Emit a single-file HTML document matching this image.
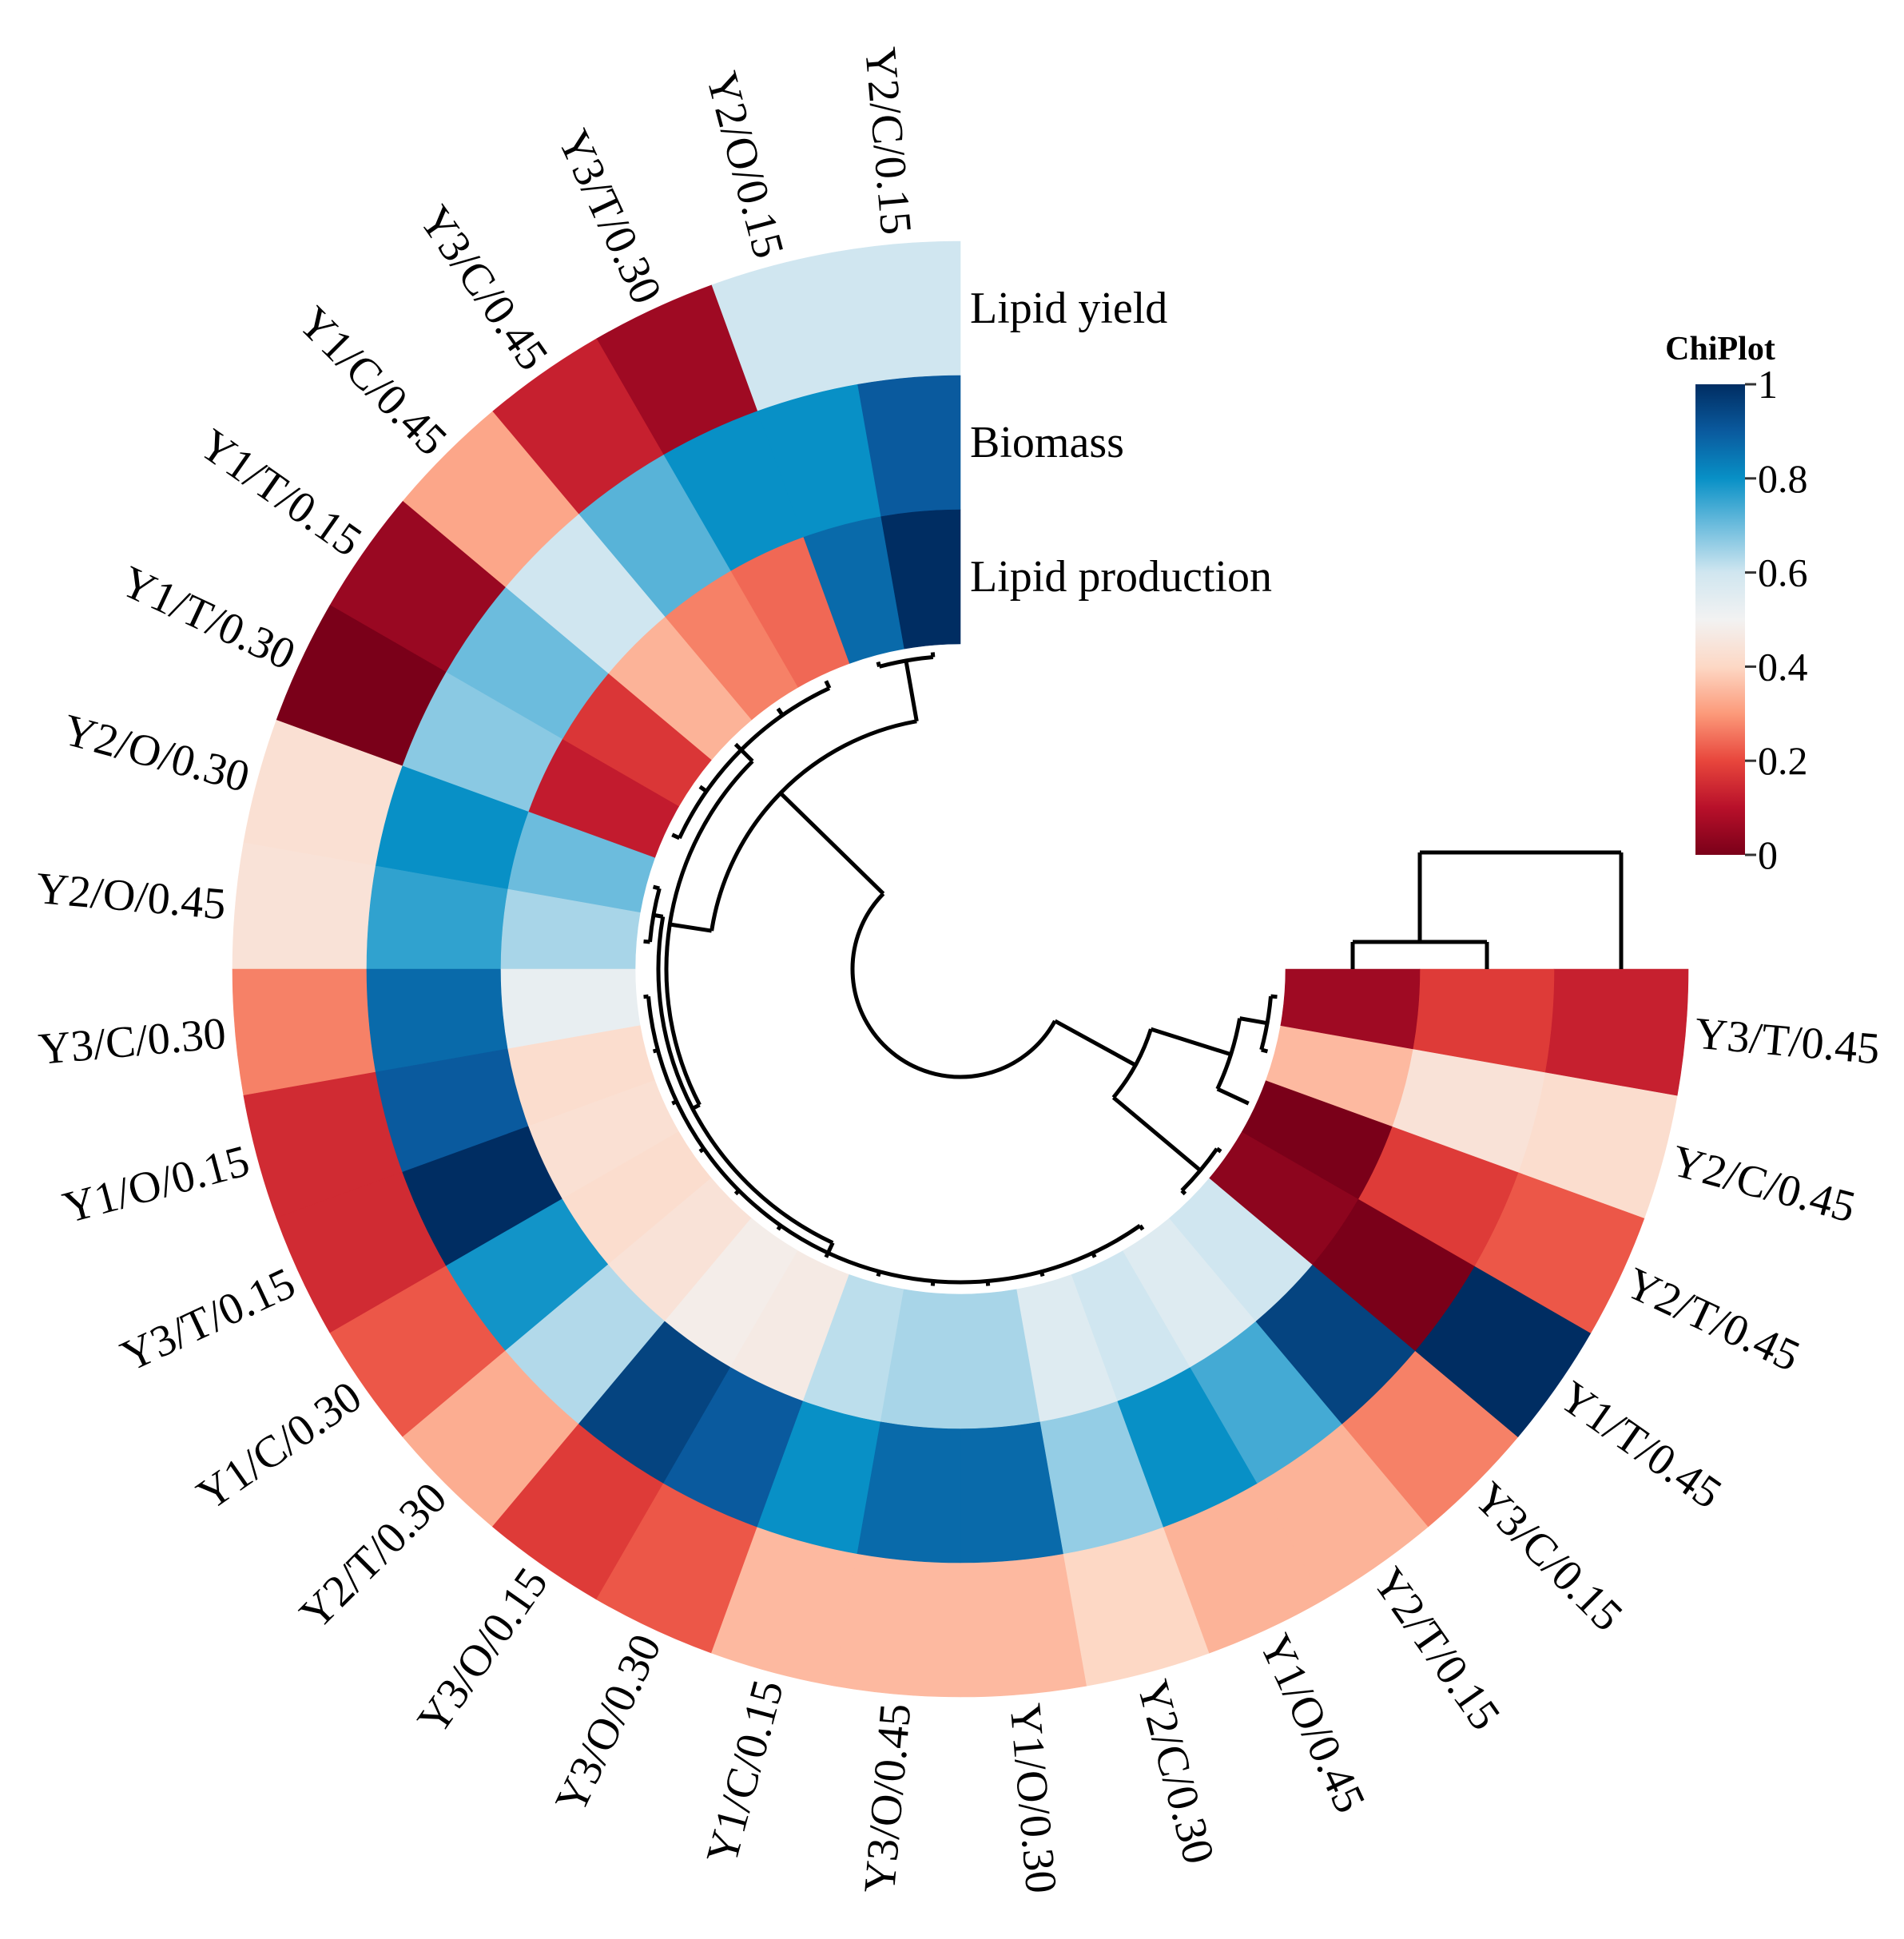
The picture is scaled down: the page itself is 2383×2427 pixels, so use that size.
<!DOCTYPE html>
<html><head><meta charset="utf-8"><style>
html,body{margin:0;padding:0;background:#fff;}
svg{display:block;font-family:"Liberation Serif",serif;}
</style></head><body>
<svg id="chart" width="2383" height="2427" viewBox="0 0 2383 2427" xmlns="http://www.w3.org/2000/svg">
<g id="sectors"></g>
<g id="labels"></g>
<g id="dendro" fill="none" stroke="#000" stroke-width="5"></g>
<g id="coldendro" fill="none" stroke="#000" stroke-width="5"></g>
<g id="ringlabels"></g>
<g id="legend"></g>
</svg>
<script>
const sampleLabels = ["Y2/C/0.15","Y2/O/0.15","Y3/T/0.30","Y3/C/0.45","Y1/C/0.45","Y1/T/0.15","Y1/T/0.30","Y2/O/0.30","Y2/O/0.45","Y3/C/0.30","Y1/O/0.15","Y3/T/0.15","Y1/C/0.30","Y2/T/0.30","Y3/O/0.15","Y3/O/0.30","Y1/C/0.15","Y3/O/0.45","Y1/O/0.30","Y2/C/0.30","Y1/O/0.45","Y2/T/0.15","Y3/C/0.15","Y1/T/0.45","Y2/T/0.45","Y2/C/0.45","Y3/T/0.45"];
const ringNames = ["Lipid yield","Biomass","Lipid production"];
const yieldVals = [0.6,0.6,0.06,0.13,0.32,0.05,0.0,0.43,0.44,0.27,0.15,0.15,0.22,0.33,0.18,0.22,0.35,0.35,0.35,0.4,0.34,0.34,0.27,1.0,0.22,0.42,0.13];
const biomassVals = [0.9,0.8,0.8,0.72,0.6,0.7,0.67,0.8,0.76,0.87,0.9,1.0,0.79,0.63,0.95,0.9,0.8,0.87,0.87,0.66,0.8,0.74,0.95,0.0,0.18,0.44,0.18];
const prodVals = [1.0,0.87,0.24,0.27,0.34,0.17,0.12,0.7,0.64,0.53,0.42,0.43,0.42,0.44,0.48,0.47,0.62,0.64,0.64,0.56,0.6,0.56,0.6,0.03,0.0,0.35,0.06];
const legendTicks = [0,0.2,0.4,0.6,0.8,1];
const legendTickLabels = ["0","0.2","0.4","0.6","0.8","1"];
const colorStops = ["#7a0019","#b8102a","#e8463c","#fc9a7a","#fdd8c5","#f2f2f2","#d0e6f0","#6cbcdd","#0890c6","#0a5a9e","#002d62"];
const tree = {h:135,c:[
  {h:315,c:[{h:392,c:[0,1]},
    {h:368,c:[{h:388,c:[2,3,4,5,6]},
      {h:378,c:[{h:390,c:[7,8]},{h:392,c:[9,10,11,12,13,14,15,16,17,18,19,20,21]}]}]}]},
  {h:250,c:[{h:355,c:[{h:390,c:[25,26]},24]},{h:392,c:[22,23]}]}
]};
const colTree = {h:1067,c:[{h:1179,c:[2,1]},0]};

const NS="http://www.w3.org/2000/svg";
const cx=1202, cy=1213, rIn=407, ringW=168, startA=90, step=10, leafR=398;
const series=[yieldVals,biomassVals,prodVals];
function hex(c){return [1,3,5].map(i=>parseInt(c.substr(i,2),16));}
function color(v){v=Math.max(0,Math.min(1,v));const p=v*10;const i=Math.min(9,Math.floor(p));const t=p-i;const a=hex(colorStops[i]),b=hex(colorStops[i+1]);return "rgb("+a.map((x,k)=>Math.round(x+(b[k]-x)*t)).join(",")+")";}
function pt(r,a){const t=a*Math.PI/180;return [cx+r*Math.cos(t),cy-r*Math.sin(t)];}
function angOf(i){return startA+(i+0.5)*step;}
function ringInner(k){return rIn+(2-k)*ringW;}
function mk(tag,attrs,parent){const e=document.createElementNS(NS,tag);for(const k in attrs)e.setAttribute(k,attrs[k]);parent.appendChild(e);return e;}

const gS=document.getElementById('sectors');
series.forEach((vals,k)=>{
  const r0=ringInner(k), r1=r0+ringW;
  vals.forEach((v,i)=>{
    const a0=startA+i*step, a1=a0+step;
    const p1=pt(r1,a0),p2=pt(r1,a1),p3=pt(r0,a1),p4=pt(r0,a0);
    const d=`M${p1}A${r1},${r1} 0 0 0 ${p2}L${p3}A${r0},${r0} 0 0 1 ${p4}Z`;
    const e=mk('path',{d:d,fill:color(v),stroke:color(v),'stroke-width':0.6},gS);
    
    
  });
});

const gL=document.getElementById('labels');
sampleLabels.forEach((s,i)=>{
  const a=angOf(i); const p=pt(923,a);
  let rot, anchor;
  if(a>90&&a<270){rot=180-a;anchor='end';}else{rot=-a;anchor='start';}
  const e=mk('text',{x:p[0],y:p[1],'font-size':56,'text-anchor':anchor,'dominant-baseline':'central',transform:`rotate(${rot} ${p[0]} ${p[1]})`},gL);
  e.textContent=s;
  
  
});

const gD=document.getElementById('dendro');
function drawNode(n){
  if(typeof n==='number') return {a:angOf(n),r:leafR};
  const kids=n.c.map(drawNode);
  const as=kids.map(k=>k.a);
  const amin=Math.min(...as), amax=Math.max(...as);
  kids.forEach(k=>{const p=pt(k.r,k.a),q=pt(n.h,k.a);const e=mk('path',{d:`M${p}L${q}`},gD);
    
    });
  const s=pt(n.h,amin),t=pt(n.h,amax);
  const e=mk('path',{d:`M${s}A${n.h},${n.h} 0 ${amax-amin>180?1:0} 0 ${t}`},gD);
  
  
  return {a:(amin+amax)/2,r:n.h};
}
drawNode(tree);

const gC=document.getElementById('coldendro');
function colNode(n){
  if(typeof n==='number') return {x:cx+ringInner(n)+ringW/2,y:cy};
  const kids=n.c.map(colNode);
  kids.forEach(k=>{const e=mk('path',{d:`M${k.x},${k.y}V${n.h}`},gC);
    
    });
  const xs=kids.map(k=>k.x);
  const e=mk('path',{d:`M${Math.min(...xs)},${n.h}H${Math.max(...xs)}`},gC);
  
  
  return {x:(Math.min(...xs)+Math.max(...xs))/2,y:n.h};
}
colNode(colTree);

const gR=document.getElementById('ringlabels');
ringNames.forEach((s,k)=>{
  const e=mk('text',{x:cx+12,y:cy-(ringInner(k)+ringW/2),'font-size':56,'dominant-baseline':'central'},gR);
  e.textContent=s;
  
  
});

const gG=document.getElementById('legend');
const lx=2122,lw=62,ly0=481,ly1=1070;
const defs=mk('defs',{},gG);
const grad=mk('linearGradient',{id:'lg',x1:0,y1:1,x2:0,y2:0},defs);
colorStops.forEach((c,i)=>mk('stop',{offset:(i*10)+'%','stop-color':c},grad));
const bar=mk('rect',{x:lx,y:ly0,width:lw,height:ly1-ly0,fill:'url(#lg)'},gG);


const title=mk('text',{x:lx+lw/2,y:450,'font-size':42,'font-weight':'bold','text-anchor':'middle'},gG);
title.textContent='ChiPlot';


legendTicks.forEach((v,i)=>{
  const y=ly1-(ly1-ly0)*v;
  const t=mk('path',{d:`M${lx+lw},${y}H${lx+lw+14}`,stroke:'#333','stroke-width':3},gG);
  
  
  const e=mk('text',{x:lx+lw+16,y:y,'font-size':50,'dominant-baseline':'central'},gG);
  e.textContent=legendTickLabels[i];
  
  
});
</script>
</body></html>
